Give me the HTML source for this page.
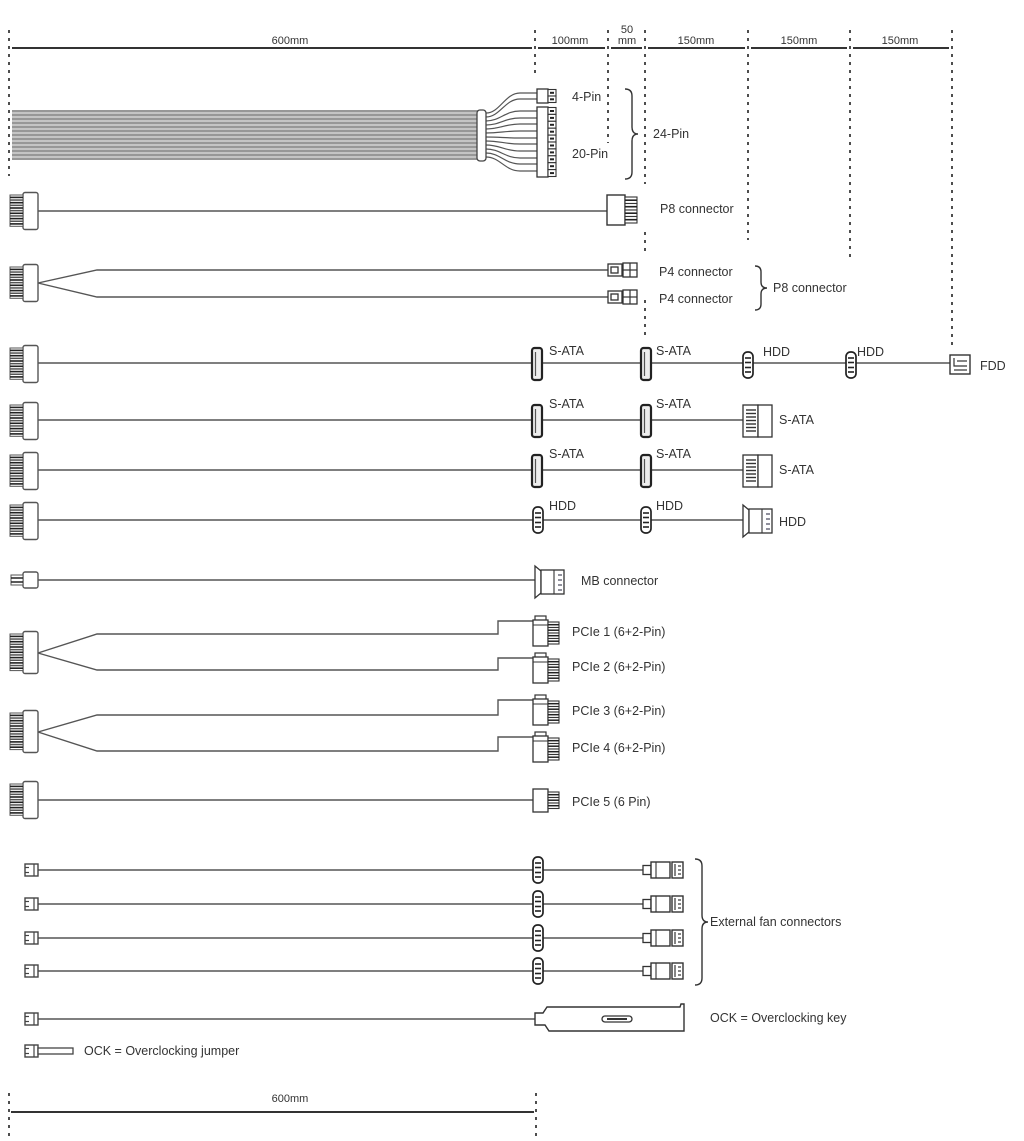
<!DOCTYPE html>
<html><head><meta charset="utf-8">
<style>
html,body{margin:0;padding:0;background:#fff;}
svg{display:block;}
text{font-family:"Liberation Sans",Arial,sans-serif;fill:#333;font-size:12.5px;}
.t{font-size:11px;}
</style></head>
<body>
<svg width="1024" height="1141" viewBox="0 0 1024 1141" xmlns="http://www.w3.org/2000/svg">
<defs>
  <!-- left 6-pin connector, height 38 -->
  <g id="lc6">
    <rect x="14" y="0.5" width="15" height="37" rx="2" fill="#fff" stroke="#555" stroke-width="1.4"/>
    <g fill="#fff" stroke="#555" stroke-width="1">
      <rect x="1" y="3" width="13" height="4.8"/><rect x="1" y="8.3" width="13" height="4.8"/>
      <rect x="1" y="13.6" width="13" height="4.8"/><rect x="1" y="18.9" width="13" height="4.8"/>
      <rect x="1" y="24.2" width="13" height="4.8"/><rect x="1" y="29.5" width="13" height="4.8"/>
    </g>
    <g stroke="#222" stroke-width="1.6">
      <line x1="1" x2="14" y1="5.4" y2="5.4"/><line x1="1" x2="14" y1="10.7" y2="10.7"/>
      <line x1="1" x2="14" y1="16" y2="16"/><line x1="1" x2="14" y1="21.3" y2="21.3"/>
      <line x1="1" x2="14" y1="26.6" y2="26.6"/><line x1="1" x2="14" y1="31.9" y2="31.9"/>
    </g>
  </g>
  <!-- left 7-pin connector, height 43 -->
  <g id="lc7">
    <rect x="14" y="0.5" width="15" height="42" rx="2" fill="#fff" stroke="#555" stroke-width="1.4"/>
    <g fill="#fff" stroke="#555" stroke-width="1">
      <rect x="1" y="3" width="13" height="4.8"/><rect x="1" y="8.3" width="13" height="4.8"/>
      <rect x="1" y="13.6" width="13" height="4.8"/><rect x="1" y="18.9" width="13" height="4.8"/>
      <rect x="1" y="24.2" width="13" height="4.8"/><rect x="1" y="29.5" width="13" height="4.8"/>
      <rect x="1" y="34.8" width="13" height="4.8"/>
    </g>
    <g stroke="#222" stroke-width="1.6">
      <line x1="1" x2="14" y1="5.4" y2="5.4"/><line x1="1" x2="14" y1="10.7" y2="10.7"/>
      <line x1="1" x2="14" y1="16" y2="16"/><line x1="1" x2="14" y1="21.3" y2="21.3"/>
      <line x1="1" x2="14" y1="26.6" y2="26.6"/><line x1="1" x2="14" y1="31.9" y2="31.9"/>
      <line x1="1" x2="14" y1="37.2" y2="37.2"/>
    </g>
  </g>
  <!-- small fan connector left, centered vertically at 0 -->
  <g id="fl">
    <rect x="0" y="-6" width="13" height="12" fill="#fff" stroke="#444" stroke-width="1.4"/>
    <g stroke="#444" stroke-width="1.2">
      <line x1="0" x2="4" y1="-2.5" y2="-2.5"/><line x1="0" x2="4" y1="2.5" y2="2.5"/>
      <line x1="9" x2="9" y1="-6" y2="6"/>
    </g>
  </g>
  <!-- inline molex (HDD), centered -->
  <g id="hd">
    <rect x="-5" y="-13" width="10" height="26" rx="4.5" fill="#fff" stroke="#222" stroke-width="1.7"/>
    <g stroke="#222" stroke-width="1.6">
      <line x1="-3" x2="3" y1="-7" y2="-7"/><line x1="-3" x2="3" y1="-2.5" y2="-2.5"/>
      <line x1="-3" x2="3" y1="2.5" y2="2.5"/><line x1="-3" x2="3" y1="7" y2="7"/>
    </g>
  </g>
  <!-- inline SATA, centered -->
  <g id="sa">
    <rect x="-5" y="-16" width="10" height="32" rx="2.5" fill="#eee" stroke="#222" stroke-width="2.2"/>
    <line x1="-1.5" x2="-1.5" y1="-12" y2="12" stroke="#555" stroke-width="1.2"/>
  </g>
  <!-- end SATA, top-left origin -->
  <g id="es">
    <rect x="0" y="0" width="15" height="32" fill="#fff" stroke="#333" stroke-width="1.3"/>
    <rect x="15" y="0" width="14" height="32" fill="#fff" stroke="#333" stroke-width="1.3"/>
    <g stroke="#333" stroke-width="1.4">
      <line x1="3" x2="13" y1="5" y2="5"/><line x1="3" x2="13" y1="8.5" y2="8.5"/>
      <line x1="3" x2="13" y1="12" y2="12"/><line x1="3" x2="13" y1="15.5" y2="15.5"/>
      <line x1="3" x2="13" y1="19" y2="19"/><line x1="3" x2="13" y1="22.5" y2="22.5"/>
      <line x1="3" x2="13" y1="26" y2="26"/>
    </g>
  </g>
  <!-- end molex, top-left origin, height 32 -->
  <g id="em">
    <path d="M0,0 L6,5 L6,27 L0,32 Z" fill="#fff" stroke="#333" stroke-width="1.3"/>
    <rect x="6" y="4" width="23" height="24" fill="#fff" stroke="#333" stroke-width="1.3"/>
    <line x1="19" x2="19" y1="4" y2="28" stroke="#333" stroke-width="1.1"/>
    <g stroke="#556" stroke-width="1.3">
      <line x1="23" x2="27" y1="9" y2="9"/><line x1="23" x2="27" y1="14" y2="14"/>
      <line x1="23" x2="27" y1="19" y2="19"/><line x1="23" x2="27" y1="24" y2="24"/>
    </g>
  </g>
  <!-- PCIe 6+2 connector, top-left origin -->
  <g id="pc">
    <rect x="2" y="0" width="11" height="5" fill="#fff" stroke="#333" stroke-width="1.2"/>
    <rect x="0" y="4" width="15" height="26" fill="#fff" stroke="#333" stroke-width="1.3"/>
    <line x1="0" x2="15" y1="9" y2="9" stroke="#333" stroke-width="1"/>
    <g fill="#fff" stroke="#333" stroke-width="1.1">
      <rect x="15" y="6" width="11" height="5.5"/><rect x="15" y="11.5" width="11" height="5.5"/>
      <rect x="15" y="17" width="11" height="5.5"/><rect x="15" y="22.5" width="11" height="5.5"/>
    </g>
    <g stroke="#222" stroke-width="1.5">
      <line x1="15" x2="26" y1="8.7" y2="8.7"/><line x1="15" x2="26" y1="14.2" y2="14.2"/>
      <line x1="15" x2="26" y1="19.7" y2="19.7"/><line x1="15" x2="26" y1="25.2" y2="25.2"/>
    </g>
  </g>
  <!-- fan end connector centered vertically -->
  <g id="fe">
    <rect x="0" y="-4.5" width="8" height="9" fill="#fff" stroke="#333" stroke-width="1.3"/>
    <rect x="8" y="-8" width="19" height="16" fill="#fff" stroke="#333" stroke-width="1.4"/>
    <line x1="13" x2="13" y1="-8" y2="8" stroke="#333" stroke-width="1.1"/>
    <rect x="29" y="-8" width="11" height="16" fill="#fff" stroke="#333" stroke-width="1.4"/>
    <g stroke="#333" stroke-width="1.2">
      <line x1="32" x2="32" y1="-6" y2="6"/>
      <line x1="35" x2="38" y1="-4" y2="-4"/><line x1="35" x2="38" y1="0" y2="0"/><line x1="35" x2="38" y1="4" y2="4"/>
    </g>
  </g>
</defs>

<!-- dashed verticals -->
<g stroke="#222" stroke-width="1.6" stroke-dasharray="3 5" fill="none">
  <line x1="9" x2="9" y1="30" y2="176"/>
  <line x1="535" x2="535" y1="30" y2="76"/>
  <line x1="608" x2="608" y1="30" y2="143"/>
  <line x1="645" x2="645" y1="30" y2="184"/>
  <line x1="645" x2="645" y1="232" y2="252"/>
  <line x1="645" x2="645" y1="300" y2="340"/>
  <line x1="748" x2="748" y1="30" y2="240"/>
  <line x1="850" x2="850" y1="30" y2="258"/>
  <line x1="952" x2="952" y1="30" y2="350"/>
  <line x1="9" x2="9" y1="1093" y2="1140"/>
  <line x1="536" x2="536" y1="1093" y2="1140"/>
</g>

<!-- top dimension line -->
<g stroke="#333" stroke-width="2">
  <line x1="12" x2="532" y1="48" y2="48"/>
  <line x1="538" x2="605" y1="48" y2="48"/>
  <line x1="611" x2="642" y1="48" y2="48"/>
  <line x1="648" x2="745" y1="48" y2="48"/>
  <line x1="751" x2="847" y1="48" y2="48"/>
  <line x1="853" x2="949" y1="48" y2="48"/>
  <line x1="11" x2="534" y1="1112" y2="1112"/>
</g>
<g class="t" text-anchor="middle">
  <text class="t" x="290" y="44">600mm</text>
  <text class="t" x="570" y="44">100mm</text>
  <text class="t" x="627" y="33">50</text>
  <text class="t" x="627" y="44">mm</text>
  <text class="t" x="696" y="44">150mm</text>
  <text class="t" x="799" y="44">150mm</text>
  <text class="t" x="900" y="44">150mm</text>
  <text class="t" x="290" y="1102">600mm</text>
</g>

<!-- 24-pin bundle -->
<rect x="12" y="110" width="468" height="50" fill="#c4c4c4"/>
<g stroke="#6a6a6a" stroke-width="1">
  <line x1="12" x2="480" y1="111" y2="111"/><line x1="12" x2="480" y1="115" y2="115"/>
  <line x1="12" x2="480" y1="119" y2="119"/><line x1="12" x2="480" y1="123" y2="123"/>
  <line x1="12" x2="480" y1="127" y2="127"/><line x1="12" x2="480" y1="131" y2="131"/>
  <line x1="12" x2="480" y1="135" y2="135"/><line x1="12" x2="480" y1="139" y2="139"/>
  <line x1="12" x2="480" y1="143" y2="143"/><line x1="12" x2="480" y1="147" y2="147"/>
  <line x1="12" x2="480" y1="151" y2="151"/><line x1="12" x2="480" y1="155" y2="155"/>
  <line x1="12" x2="480" y1="159" y2="159"/>
</g>
<g stroke="#555" stroke-width="1.2" fill="none">
  <path d="M486,113 C500,113 505,93 520,93 L537,93"/>
  <path d="M486,117 C500,117 505,99 520,99 L537,99"/>
  <path d="M486,121 C500,121 505,111 520,111 L537,111"/>
  <path d="M486,125 C500,125 505,118 520,118 L537,118"/>
  <path d="M486,129 C500,129 505,124 520,124 L537,124"/>
  <path d="M486,133 C500,133 505,131 520,131 L537,131"/>
  <path d="M486,137 C500,137 505,138 520,138 L537,138"/>
  <path d="M486,141 C500,141 505,144 520,144 L537,144"/>
  <path d="M486,145 C500,145 505,151 520,151 L537,151"/>
  <path d="M486,149 C500,149 505,158 520,158 L537,158"/>
  <path d="M486,153 C500,153 505,164 520,164 L537,164"/>
  <path d="M486,157 C500,157 505,171 520,171 L537,171"/>
</g>
<rect x="477" y="110" width="9" height="51" rx="3" fill="#fff" stroke="#444" stroke-width="1.3"/>
<!-- 4-pin -->
<rect x="537" y="89" width="11" height="14" fill="#fff" stroke="#333" stroke-width="1.3"/>
<g fill="#fff" stroke="#333" stroke-width="1.1">
  <rect x="548" y="89.5" width="8" height="6.5"/><rect x="548" y="96" width="8" height="6.5"/>
</g>
<g stroke="#222" stroke-width="2"><line x1="550" x2="554" y1="92.8" y2="92.8"/><line x1="550" x2="554" y1="99.3" y2="99.3"/></g>
<!-- 20-pin -->
<rect x="537" y="107" width="11" height="70" fill="#fff" stroke="#333" stroke-width="1.3"/>
<g fill="#fff" stroke="#333" stroke-width="1.1">
  <rect x="548" y="107.5" width="8" height="6.9"/><rect x="548" y="114.4" width="8" height="6.9"/>
  <rect x="548" y="121.3" width="8" height="6.9"/><rect x="548" y="128.2" width="8" height="6.9"/>
  <rect x="548" y="135.1" width="8" height="6.9"/><rect x="548" y="142" width="8" height="6.9"/>
  <rect x="548" y="148.9" width="8" height="6.9"/><rect x="548" y="155.8" width="8" height="6.9"/>
  <rect x="548" y="162.7" width="8" height="6.9"/><rect x="548" y="169.6" width="8" height="6.9"/>
</g>
<g stroke="#222" stroke-width="2">
  <line x1="550" x2="554" y1="111" y2="111"/><line x1="550" x2="554" y1="117.9" y2="117.9"/>
  <line x1="550" x2="554" y1="124.8" y2="124.8"/><line x1="550" x2="554" y1="131.7" y2="131.7"/>
  <line x1="550" x2="554" y1="138.6" y2="138.6"/><line x1="550" x2="554" y1="145.5" y2="145.5"/>
  <line x1="550" x2="554" y1="152.4" y2="152.4"/><line x1="550" x2="554" y1="159.3" y2="159.3"/>
  <line x1="550" x2="554" y1="166.2" y2="166.2"/><line x1="550" x2="554" y1="173.1" y2="173.1"/>
</g>
<text x="572" y="101">4-Pin</text>
<text x="572" y="158">20-Pin</text>
<text x="653" y="138">24-Pin</text>

<!-- braces -->
<g fill="none" stroke="#333" stroke-width="1.4">
  <path d="M625,89 Q632,89 632,96 L632,127 Q632,134 638,134 Q632,134 632,141 L632,172 Q632,179 625,179"/>
  <path d="M755,266 Q761,266 761,272 L761,282 Q761,288 767,288 Q761,288 761,294 L761,304 Q761,310 755,310"/>
  <path d="M695,859 Q702,859 702,866 L702,915 Q702,922 708,922 Q702,922 702,929 L702,978 Q702,985 695,985"/>
</g>

<!-- cables -->
<g stroke="#555" stroke-width="1.4" fill="none">
  <line x1="38" x2="608" y1="211" y2="211"/>
  <polyline points="38,283 97,270 608,270"/>
  <polyline points="38,283 97,297 608,297"/>
  <line x1="38" x2="950" y1="363" y2="363"/>
  <line x1="38" x2="743" y1="420" y2="420"/>
  <line x1="38" x2="743" y1="470" y2="470"/>
  <line x1="38" x2="745" y1="520" y2="520"/>
  <line x1="38" x2="537" y1="580" y2="580"/>
  <polyline points="38,653 97,634 498,634 498,621 533,621"/>
  <polyline points="38,653 97,670 498,670 498,658 533,658"/>
  <polyline points="38,732 97,715 498,715 498,700 533,700"/>
  <polyline points="38,732 97,751 498,751 498,737 533,737"/>
  <line x1="38" x2="533" y1="800" y2="800"/>
  <line x1="38" x2="643" y1="870" y2="870"/>
  <line x1="38" x2="643" y1="904" y2="904"/>
  <line x1="38" x2="643" y1="938" y2="938"/>
  <line x1="38" x2="643" y1="971" y2="971"/>
  <line x1="38" x2="535" y1="1019" y2="1019"/>
</g>

<!-- left connectors -->
<use href="#lc6" x="9" y="192"/>
<use href="#lc6" x="9" y="264"/>
<use href="#lc6" x="9" y="345"/>
<use href="#lc6" x="9" y="402"/>
<use href="#lc6" x="9" y="452"/>
<use href="#lc6" x="9" y="502"/>
<use href="#lc7" x="9" y="631"/>
<use href="#lc7" x="9" y="710"/>
<use href="#lc6" x="9" y="781"/>
<!-- MB left small -->
<rect x="23" y="572" width="15" height="16" rx="2" fill="#fff" stroke="#555" stroke-width="1.4"/>
<rect x="11" y="575" width="12" height="10" fill="#fff" stroke="#555" stroke-width="1"/>
<g stroke="#222" stroke-width="1.5"><line x1="11" x2="23" y1="578" y2="578"/><line x1="11" x2="23" y1="582" y2="582"/></g>
<!-- fan left -->
<use href="#fl" x="25" y="870"/>
<use href="#fl" x="25" y="904"/>
<use href="#fl" x="25" y="938"/>
<use href="#fl" x="25" y="971"/>
<use href="#fl" x="25" y="1019"/>
<use href="#fl" x="25" y="1051"/>
<rect x="38" y="1048" width="35" height="6" fill="#fff" stroke="#444" stroke-width="1.3"/>
<text x="84" y="1055">OCK = Overclocking jumper</text>

<!-- P8 right -->
<rect x="607" y="195" width="18" height="30" fill="#fff" stroke="#333" stroke-width="1.4"/>
<g fill="#fff" stroke="#333" stroke-width="1.1">
  <rect x="625" y="197" width="12" height="6.5"/><rect x="625" y="203.5" width="12" height="6.5"/>
  <rect x="625" y="210" width="12" height="6.5"/><rect x="625" y="216.5" width="12" height="6.5"/>
</g>
<g stroke="#222" stroke-width="1.6">
  <line x1="625" x2="637" y1="200.2" y2="200.2"/><line x1="625" x2="637" y1="206.7" y2="206.7"/>
  <line x1="625" x2="637" y1="213.2" y2="213.2"/><line x1="625" x2="637" y1="219.7" y2="219.7"/>
</g>
<text x="660" y="213">P8 connector</text>

<!-- P4 connectors -->
<g fill="#fff" stroke="#333" stroke-width="1.3">
  <rect x="608" y="264" width="14" height="12"/><rect x="611" y="267" width="7" height="6"/>
  <rect x="623" y="263" width="14" height="14"/>
  <rect x="608" y="291" width="14" height="12"/><rect x="611" y="294" width="7" height="6"/>
  <rect x="623" y="290" width="14" height="14"/>
</g>
<g stroke="#333" stroke-width="1.2">
  <line x1="623" x2="637" y1="270" y2="270"/><line x1="630" x2="630" y1="263" y2="277"/>
  <line x1="623" x2="637" y1="297" y2="297"/><line x1="630" x2="630" y1="290" y2="304"/>
</g>
<text x="659" y="276">P4 connector</text>
<text x="659" y="303">P4 connector</text>
<text x="773" y="292">P8 connector</text>

<!-- SATA row 1 -->
<use href="#sa" x="537" y="364"/>
<use href="#sa" x="646" y="364"/>
<use href="#hd" x="748" y="365"/>
<use href="#hd" x="851" y="365"/>
<text x="549" y="355">S-ATA</text>
<text x="656" y="355">S-ATA</text>
<text x="763" y="356">HDD</text>
<text x="857" y="356">HDD</text>
<!-- FDD -->
<rect x="950" y="355" width="20" height="19" fill="#fff" stroke="#333" stroke-width="1.4"/>
<g stroke="#333" stroke-width="1.2" fill="none">
  <polyline points="954,358 954,366 967,366"/>
  <line x1="957" x2="967" y1="361" y2="361"/>
  <line x1="954" x2="967" y1="370" y2="370"/>
</g>
<text x="980" y="370">FDD</text>

<!-- SATA row 2 -->
<use href="#sa" x="537" y="421"/>
<use href="#sa" x="646" y="421"/>
<use href="#es" x="743" y="405"/>
<text x="549" y="408">S-ATA</text>
<text x="656" y="408">S-ATA</text>
<text x="779" y="424">S-ATA</text>

<!-- SATA row 3 -->
<use href="#sa" x="537" y="471"/>
<use href="#sa" x="646" y="471"/>
<use href="#es" x="743" y="455"/>
<text x="549" y="458">S-ATA</text>
<text x="656" y="458">S-ATA</text>
<text x="779" y="474">S-ATA</text>

<!-- HDD row -->
<use href="#hd" x="538" y="520"/>
<use href="#hd" x="646" y="520"/>
<use href="#em" x="743" y="505"/>
<text x="549" y="510">HDD</text>
<text x="656" y="510">HDD</text>
<text x="779" y="526">HDD</text>

<!-- MB connector -->
<use href="#em" x="535" y="566"/>
<text x="581" y="585">MB connector</text>

<!-- PCIe -->
<use href="#pc" x="533" y="616"/>
<use href="#pc" x="533" y="653"/>
<use href="#pc" x="533" y="695"/>
<use href="#pc" x="533" y="732"/>
<rect x="533" y="789" width="15" height="23" fill="#fff" stroke="#333" stroke-width="1.3"/>
<g fill="#fff" stroke="#333" stroke-width="1.1">
  <rect x="548" y="792" width="11" height="5.5"/><rect x="548" y="797.5" width="11" height="5.5"/><rect x="548" y="803" width="11" height="5.5"/>
</g>
<g stroke="#222" stroke-width="1.5">
  <line x1="548" x2="559" y1="794.7" y2="794.7"/><line x1="548" x2="559" y1="800.2" y2="800.2"/><line x1="548" x2="559" y1="805.7" y2="805.7"/>
</g>
<text x="572" y="636">PCIe 1 (6+2-Pin)</text>
<text x="572" y="671">PCIe 2 (6+2-Pin)</text>
<text x="572" y="715">PCIe 3 (6+2-Pin)</text>
<text x="572" y="752">PCIe 4 (6+2-Pin)</text>
<text x="572" y="806">PCIe 5 (6 Pin)</text>

<!-- fans -->
<use href="#hd" x="538" y="870"/>
<use href="#hd" x="538" y="904"/>
<use href="#hd" x="538" y="938"/>
<use href="#hd" x="538" y="971"/>
<use href="#fe" x="643" y="870"/>
<use href="#fe" x="643" y="904"/>
<use href="#fe" x="643" y="938"/>
<use href="#fe" x="643" y="971"/>
<text x="710" y="926">External fan connectors</text>

<!-- OCK bracket -->
<path d="M535,1013 L543,1013 L547,1007 L680,1007 L681,1004 L684,1004 L684,1031 L549,1031 L545,1025 L535,1025 Z" fill="#fff" stroke="#333" stroke-width="1.4"/>
<rect x="602" y="1016" width="30" height="6" rx="3" fill="#fff" stroke="#333" stroke-width="1.3"/>
<line x1="607" x2="627" y1="1019" y2="1019" stroke="#333" stroke-width="2"/>
<text x="710" y="1022">OCK = Overclocking key</text>
</svg>
</body></html>
